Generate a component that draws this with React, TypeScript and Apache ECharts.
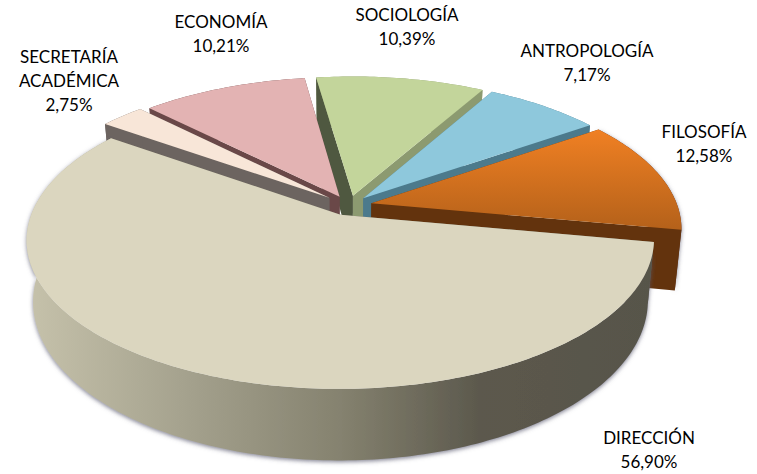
import React, { useEffect, useRef } from "react";
import * as echarts from "echarts";

// Clockwise order, starting at Dirección's right-hand edge
const categories = ["DIRECCIÓN", "SECRETARÍA\nACADÉMICA", "ECONOMÍA", "SOCIOLOGÍA", "ANTROPOLOGÍA", "FILOSOFÍA"];
const shares = [56.9, 2.75, 10.21, 10.39, 7.17, 12.58];

// Styles and layout, separate from data
const paintRank = [5, 4, 2, 0, 1, 3];
const explodeBy = [0.07, 0.085, 0.07, 0.07, 0.07, 0.075];
const topFill: any[] = [
  "#DBD6BF",
  "#F8E6D8",
  "#E3B3B3",
  "#C3D59B",
  "#8EC8DC",
  { type: "linear", x: 0, y: 0, x2: 0, y2: 1, colorStops: [{ offset: 0, color: "#F08023" }, { offset: 1, color: "#B4611A" }] },
];
const startWall = ["#6B6858", "#6C6460", "#6A4848", "#4F5840", "#4C7A8C", "#63330D"];
const endWall = ["#6B6858", "#6C6460", "#6A4848", "#8C9A70", "#4C7A8C", "#63330D"];
const rimWall: any[] = [
  {
    type: "linear", x: 0, y: 0, x2: 1, y2: 0,
    colorStops: [
      { offset: 0, color: "#C6C2AB" },
      { offset: 0.25, color: "#A5A28E" },
      { offset: 0.5, color: "#85826F" },
      { offset: 0.72, color: "#5C594D" },
      { offset: 1, color: "#57544A" },
    ],
  },
  "#6C6460", "#6A4848", "#8C9A70", "#4C7A8C", "#63330D",
];
const labelAt: [number, number][] = [
  [649, 449], [69, 80], [221, 33], [407, 26], [587, 62], [704, 143],
];

const view = { cx: 349, cy: 205.5, A: 306, a: 142, b: -0.165, startDeg: 10.5, thick: 59, shrink: 0.98 };
const rad = (d: number) => (d * Math.PI) / 180;

function top(u: number, v: number): [number, number] {
  const d = 1 + view.b * v;
  return [view.cx + (view.A * u) / d, view.cy + (view.a * v) / d];
}
function bottom(u: number, v: number): [number, number] {
  const d = 1 + view.b * v;
  const p = top(u, v);
  return [view.cx + (p[0] - view.cx) * view.shrink, p[1] + view.thick / d];
}

export default function App() {
  const ref = useRef<HTMLDivElement>(null);
  useEffect(() => {
    const chart = echarts.init(ref.current!, undefined, { renderer: "svg" });
    const total = shares.reduce((s, x) => s + x, 0);
    chart.setOption({
      animation: false,
      backgroundColor: "#ffffff",
      series: [
        {
          type: "custom",
          coordinateSystem: "none",
          silent: true,
          data: shares.map((v, i) => ({ value: [v, i], name: categories[i] })),
          renderItem: (_p: any, api: any) => {
            const value = api.value(0) as number;
            const i = api.value(1) as number;
            let before = 0;
            for (let k = 0; k < i; k++) before += shares[k];
            const t0 = view.startDeg + (before / total) * 360;
            const t1 = t0 + (value / total) * 360;
            const mid = rad((t0 + t1) / 2);
            const ou = explodeBy[i] * Math.cos(mid);
            const ov = explodeBy[i] * Math.sin(mid);
            const n = Math.max(8, Math.ceil(t1 - t0));
            const rim: [number, number][] = [];
            for (let k = 0; k <= n; k++) {
              const t = rad(t0 + ((t1 - t0) * k) / n);
              rim.push([ou + Math.cos(t), ov + Math.sin(t)]);
            }
            const topRim = rim.map((r) => top(r[0], r[1]));
            const botRim = rim.map((r) => bottom(r[0], r[1]));
            const at = top(ou, ov);
            const ab = bottom(ou, ov);
            const base = paintRank[i] * 10;
            const poly = (points: [number, number][], fill: any, z: number, extra: any = {}) => ({
              type: "polygon",
              z2: base + z,
              shape: { points },
              style: { fill, shadowBlur: extra.shadowBlur, shadowColor: extra.shadowColor, shadowOffsetY: extra.shadowOffsetY },
            });
            const hasGlow = i === 0 || i === 5;
            const children: any[] = [
              poly([at, topRim[0], botRim[0], ab], startWall[i], 1),
              poly([at, topRim[n], botRim[n], ab], endWall[i], 1),
              poly([...topRim, ...botRim.slice().reverse()], rimWall[i], i === 0 ? 2 : 0,
                hasGlow ? { shadowBlur: 4, shadowColor: "rgba(90,90,110,0.75)", shadowOffsetY: 1.5 } : {}),
              poly([at, ...topRim], topFill[i], 3),
              {
                type: "text",
                z2: 100,
                x: labelAt[i][0],
                y: labelAt[i][1],
                style: {
                  text: `${categories[i]}\n${value.toFixed(2).replace(".", ",")}%`,
                  fill: "#000000",
                  font: "17px Lato",
                  lineHeight: 24,
                  textAlign: "center",
                  textVerticalAlign: "middle",
                },
              },
            ];
            return { type: "group", children };
          },
        },
      ],
    });
    return () => chart.dispose();
  }, []);
  return <div ref={ref} style={{ position: "fixed", left: 0, top: 0, width: 757, height: 474 }} />;
}
